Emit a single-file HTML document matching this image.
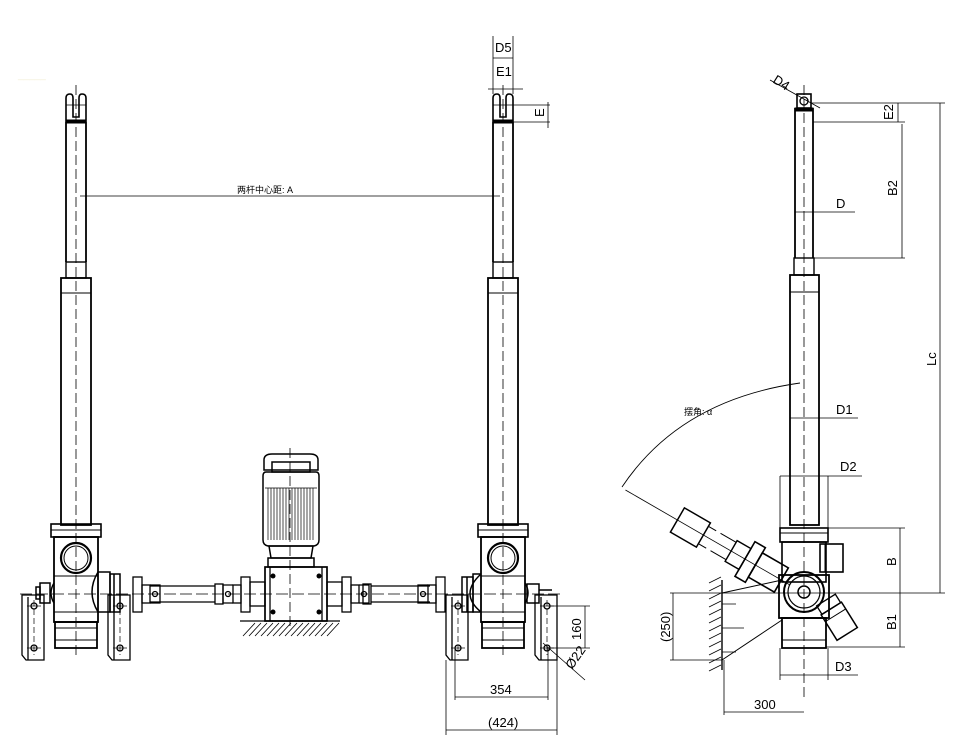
<!DOCTYPE html>
<html><head><meta charset="utf-8"><style>html,body{margin:0;padding:0;background:#fff}svg{display:block}</style></head><body>
<svg width="966" height="745" viewBox="0 0 966 745" xmlns="http://www.w3.org/2000/svg" font-family="Liberation Sans Narrow, Liberation Sans, Noto Sans CJK SC, sans-serif">
<defs>
<g id="act" stroke="#000" fill="none">
  <path d="M-10 122 V98 q0-4 4-4 q3 0 3 4 V117 h6 V98 q0-4 3-4 q4 0 4 4 V122" stroke-width="1.6"/>
  <line x1="-10" y1="105" x2="10" y2="105" stroke-width="0.8"/>
  <rect x="-10" y="120" width="20" height="3" fill="#000"/>
  <line x1="-10" y1="122" x2="-10" y2="262" stroke-width="1.8"/>
  <line x1="10" y1="122" x2="10" y2="262" stroke-width="1.8"/>
  <rect x="-10" y="262" width="20" height="16" stroke-width="1.4"/>
  <rect x="-15" y="278" width="30" height="247" stroke-width="1.8"/>
  <line x1="-15" y1="293" x2="15" y2="293" stroke-width="1"/>
  <rect x="-25" y="524" width="50" height="13" stroke-width="1.6"/>
  <line x1="-25" y1="530" x2="25" y2="530" stroke-width="1"/>
  <rect x="-22" y="537" width="44" height="85" stroke-width="1.8"/>
  <circle cx="0" cy="558" r="15" stroke-width="2.2"/>
  <circle cx="0" cy="558" r="12" stroke-width="1"/>
  <line x1="-22" y1="576" x2="22" y2="576" stroke-width="1"/>
  <line x1="-22" y1="612" x2="22" y2="612" stroke-width="1"/>
  <rect x="-21" y="622" width="42" height="26" stroke-width="1.8"/>
  <line x1="-21" y1="628" x2="21" y2="628" stroke-width="1"/>
  <line x1="-21" y1="640" x2="21" y2="640" stroke-width="1"/>
  <line x1="0" y1="85" x2="0" y2="655" stroke-width="0.8" stroke-dasharray="10,4"/>
</g>
<g id="brk" stroke="#000" fill="none" stroke-width="1.3">
  <path d="M0 595 H22 V660 H4 L0 655 Z"/>
  <line x1="6" y1="597" x2="6" y2="660"/>
  <circle cx="12" cy="606" r="3"/><circle cx="12" cy="648" r="3"/>
  <line x1="12" y1="600" x2="12" y2="655" stroke-width="0.7" stroke-dasharray="6,3"/>
  <line x1="5" y1="606" x2="19" y2="606" stroke-width="0.7"/><line x1="5" y1="648" x2="19" y2="648" stroke-width="0.7"/>
</g>
<g id="uj" stroke="#000" fill="none" stroke-width="1.3">
  <rect x="0" y="577" width="9" height="35"/>
  <rect x="9" y="585" width="8" height="18"/>
  <path d="M17 585 h10 v18 h-10"/>
  <circle cx="22" cy="594" r="2.5"/>
</g>
</defs>

<text x="18" y="78" font-size="10" fill="#f3efd6">_____</text>

<g transform="translate(76,0)"><use href="#act"/></g>
<g transform="translate(503,0)"><use href="#act"/></g>

<g stroke="#000" fill="none" stroke-width="1.5">
  <path d="M98 572 q-12 20 0 40"/><path d="M98 572 h12 v40 h-12"/>
  <rect x="110" y="574" width="10" height="38"/><line x1="114" y1="574" x2="114" y2="612"/>
  <path d="M54 583 q-6 10 0 20"/><rect x="40" y="583" width="10" height="20"/><rect x="36" y="587" width="4" height="12"/>
  <path d="M481 574 q-22 20 0 38"/><path d="M481 574 h-8 v38 h8"/><rect x="462" y="577" width="11" height="35"/><line x1="467" y1="577" x2="467" y2="612"/>
  <path d="M525 583 q6 10 0 20"/><rect x="527" y="584" width="12" height="19"/><line x1="539" y1="590" x2="552" y2="590"/>
</g>
<g transform="translate(22,0)"><use href="#brk"/></g>
<g transform="translate(108,0)"><use href="#brk"/></g>
<g transform="translate(446,0)"><use href="#brk"/></g>
<g transform="translate(535,0)"><use href="#brk"/></g>

<g stroke="#000" fill="none" stroke-width="1.3">
  <use href="#uj" transform="translate(133,0)"/>
  <line x1="150" y1="586" x2="215" y2="586"/><line x1="150" y1="602" x2="215" y2="602"/>
  <rect x="215" y="584" width="8" height="20"/>
  <use href="#uj" transform="translate(250,0) scale(-1,1)"/>
  <rect x="250" y="582" width="15" height="24"/>
  <rect x="265" y="567" width="62" height="54" stroke-width="1.7"/>
  <line x1="270" y1="567" x2="270" y2="621"/><line x1="322" y1="567" x2="322" y2="621"/>
  <rect x="327" y="582" width="15" height="24"/>
  <use href="#uj" transform="translate(342,0)"/>
  <rect x="363" y="584" width="8" height="20"/>
  <line x1="371" y1="586" x2="430" y2="586"/><line x1="371" y1="602" x2="430" y2="602"/>
  <use href="#uj" transform="translate(445,0) scale(-1,1)"/>
  <line x1="240" y1="621" x2="340" y2="621"/>
</g>
<g stroke="#000" stroke-width="0.8">
  <path d="M243 636 l12-13 M249 636 l12-13 M255 636 l12-13 M261 636 l12-13 M267 636 l12-13 M273 636 l12-13 M279 636 l12-13 M285 636 l12-13 M291 636 l12-13 M297 636 l12-13 M303 636 l12-13 M309 636 l12-13 M315 636 l12-13 M321 636 l12-13 M327 636 l12-13"/>
</g>
<g fill="#000"><circle cx="273" cy="576" r="2.5"/><circle cx="319" cy="576" r="2.5"/><circle cx="273" cy="612" r="2.5"/><circle cx="319" cy="612" r="2.5"/></g>
<line x1="20" y1="594" x2="560" y2="594" stroke="#000" stroke-width="0.8" stroke-dasharray="12,4"/>

<g stroke="#000" fill="none" stroke-width="1.5">
  <path d="M264 470 v-10 q0-6 8-6 h38 q8 0 8 6 v10 z"/>
  <rect x="272" y="462" width="38" height="10"/>
  <path d="M266 472 h50 q3 0 3 4 v64 q0 5-5 6 h-46 q-5-1-5-6 v-64 q0-4 3-4z"/>
  <path d="M269 546 h44 l-2 12 h-40z"/>
  <rect x="268" y="558" width="46" height="9"/>
</g>
<g stroke="#000" stroke-width="0.7">
  <path d="M268 488 v52 M271 488 v52 M274 488 v52 M277 488 v52 M280 488 v52 M283 488 v52 M286 488 v52 M289 488 v52 M292 488 v52 M295 488 v52 M298 488 v52 M301 488 v52 M304 488 v52 M307 488 v52 M310 488 v52 M313 488 v52"/>
  <line x1="265" y1="488" x2="317" y2="488"/>
</g>
<line x1="290" y1="448" x2="290" y2="630" stroke="#000" stroke-width="0.8" stroke-dasharray="10,4"/>

<g stroke="#000" stroke-width="0.8" fill="none">
  <line x1="80" y1="196" x2="500" y2="196"/>
  <line x1="493" y1="36" x2="493" y2="94"/><line x1="513" y1="36" x2="513" y2="94"/>
  <line x1="493" y1="58" x2="513" y2="58"/>
  <line x1="488" y1="89" x2="523" y2="89"/>
  <line x1="513" y1="105" x2="550" y2="105"/><line x1="513" y1="122" x2="550" y2="122"/>
  <line x1="548" y1="102" x2="548" y2="128"/>
  <line x1="548" y1="606" x2="590" y2="606"/><line x1="548" y1="648" x2="590" y2="648"/>
  <line x1="585" y1="606" x2="585" y2="648"/>
  <line x1="543" y1="643" x2="585" y2="680"/>
  <line x1="455" y1="648" x2="455" y2="700"/><line x1="548" y1="648" x2="548" y2="700"/>
  <line x1="455" y1="697" x2="548" y2="697"/>
  <line x1="446" y1="660" x2="446" y2="735"/><line x1="557" y1="660" x2="557" y2="735"/>
  <line x1="446" y1="730" x2="557" y2="730"/>
</g>
<g font-size="13" fill="#000">
  <text x="237" y="193" font-size="9">两杆中心距: A</text>
  <text x="495" y="52">D5</text>
  <text x="496" y="76">E1</text>
  <text x="0" y="0" transform="translate(544,117) rotate(-90)">E</text>
  <text x="0" y="0" transform="translate(581,640) rotate(-90)">160</text>
  <text x="0" y="0" transform="translate(572,670) rotate(-55)">Ø22</text>
  <text x="490" y="694">354</text>
  <text x="488" y="727">(424)</text>
</g>

<g stroke="#000" fill="none">
  <rect x="797" y="94" width="14" height="14" stroke-width="1.6"/>
  <circle cx="804" cy="101" r="4" stroke-width="1.3"/>
  <rect x="795" y="108" width="18" height="3" fill="#000"/>
  <line x1="795" y1="108" x2="795" y2="258" stroke-width="1.8"/><line x1="813" y1="108" x2="813" y2="258" stroke-width="1.8"/>
  <rect x="794" y="258" width="20" height="17" stroke-width="1.4"/>
  <rect x="790" y="275" width="29" height="250" stroke-width="1.8"/>
  <line x1="790" y1="292" x2="819" y2="292"/>
  <rect x="780" y="528" width="48" height="14" stroke-width="1.6"/>
  <line x1="780" y1="533" x2="828" y2="533"/>
  <rect x="782" y="542" width="44" height="40" stroke-width="1.6"/>
  <rect x="779" y="575" width="50" height="43" stroke-width="1.8"/>
  <circle cx="804" cy="592" r="20" stroke-width="2"/><circle cx="804" cy="592" r="16" stroke-width="1.2"/><circle cx="804" cy="592" r="6" stroke-width="1.5"/>
  <rect x="782" y="618" width="44" height="30" stroke-width="1.8"/>
  <line x1="782" y1="640" x2="826" y2="640"/>
  <rect x="820" y="544" width="23" height="28" stroke-width="1.6"/><line x1="825" y1="544" x2="825" y2="572"/>
  <g transform="translate(826,600) rotate(58)"><rect x="0" y="-11" width="10" height="22" stroke-width="1.3"/><rect x="10" y="-12" width="30" height="24" stroke-width="1.5"/><line x1="18" y1="-12" x2="18" y2="12"/></g>
  <g transform="translate(790,585) rotate(-150)">
    <rect x="10" y="-14" width="30" height="28" stroke-width="1.6"/>
    <rect x="40" y="-20" width="12" height="40" stroke-width="1.6"/>
    <rect x="52" y="-12" width="16" height="24" stroke-width="1.4"/>
    <line x1="68" y1="-10" x2="100" y2="-10" stroke-dasharray="18,5"/>
    <line x1="68" y1="10" x2="100" y2="10" stroke-dasharray="18,5"/>
    <rect x="100" y="-14" width="30" height="28" stroke-width="1.5"/>
    <line x1="0" y1="0" x2="190" y2="0" stroke-width="0.8"/>
  </g>
  <line x1="804" y1="85" x2="804" y2="700" stroke-width="0.8" stroke-dasharray="10,4"/>
  <path d="M722 593 L782 580 M722 660 L782 620 M722 593 V660" stroke-width="1"/>
  <line x1="722" y1="580" x2="722" y2="670" stroke-width="1.4"/>
  <path d="M722 604 h14 M722 628 h22 M722 652 h14" stroke-width="0.8"/>
</g>
<g stroke="#000" stroke-width="0.8">
  <path d="M709 583 l12 -6 M709 591 l12 -6 M709 599 l12 -6 M709 607 l12 -6 M709 615 l12 -6 M709 623 l12 -6 M709 631 l12 -6 M709 639 l12 -6 M709 647 l12 -6 M709 655 l12 -6 M709 663 l12 -6 M709 671 l12 -6"/>
</g>
<path d="M622 487 Q680 400 800 383" stroke="#000" stroke-width="0.9" fill="none"/>
<g stroke="#000" stroke-width="0.8" fill="none">
  <line x1="770" y1="80" x2="820" y2="108"/>
  <line x1="811" y1="103" x2="945" y2="103"/>
  <line x1="813" y1="122" x2="905" y2="122"/>
  <line x1="898" y1="103" x2="898" y2="122"/>
  <line x1="813" y1="258" x2="905" y2="258"/>
  <line x1="902" y1="124" x2="902" y2="258"/>
  <line x1="940" y1="103" x2="940" y2="593"/>
  <line x1="795" y1="212" x2="855" y2="212"/>
  <line x1="790" y1="418" x2="858" y2="418"/>
  <line x1="780" y1="476" x2="862" y2="476"/>
  <line x1="780" y1="476" x2="780" y2="528"/><line x1="828" y1="476" x2="828" y2="528"/>
  <line x1="826" y1="528" x2="905" y2="528"/>
  <line x1="670" y1="593" x2="945" y2="593"/>
  <line x1="900" y1="528" x2="900" y2="647"/>
  <line x1="826" y1="647" x2="905" y2="647"/>
  <line x1="670" y1="660" x2="722" y2="660"/>
  <line x1="673" y1="593" x2="673" y2="660"/>
  <line x1="780" y1="648" x2="780" y2="680"/><line x1="828" y1="648" x2="828" y2="680"/>
  <line x1="780" y1="675" x2="858" y2="675"/>
  <line x1="724" y1="660" x2="724" y2="715"/>
  <line x1="724" y1="712" x2="804" y2="712"/>
</g>
<g font-size="13" fill="#000">
  <text x="0" y="0" transform="translate(772,82) rotate(32)">D4</text>
  <text x="0" y="0" transform="translate(893,120) rotate(-90)">E2</text>
  <text x="0" y="0" transform="translate(897,196) rotate(-90)">B2</text>
  <text x="0" y="0" transform="translate(936,366) rotate(-90)">Lc</text>
  <text x="836" y="208">D</text>
  <text x="836" y="414">D1</text>
  <text x="840" y="471">D2</text>
  <text x="0" y="0" transform="translate(896,566) rotate(-90)">B</text>
  <text x="0" y="0" transform="translate(896,630) rotate(-90)">B1</text>
  <text x="0" y="0" transform="translate(670,642) rotate(-90)">(250)</text>
  <text x="835" y="671">D3</text>
  <text x="754" y="709">300</text>
  <text x="684" y="415" font-size="9">摆角: α</text>
</g>
</svg>
</body></html>
